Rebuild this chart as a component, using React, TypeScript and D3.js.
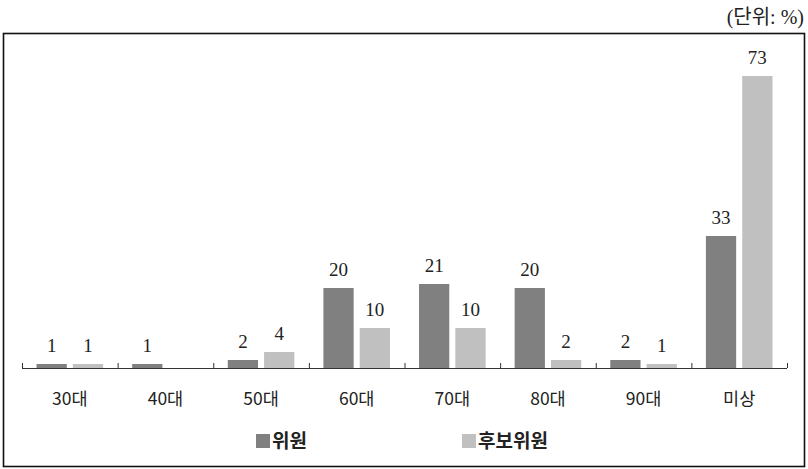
import React from "react";
import * as d3 from "d3";

const categories = ["30대", "40대", "50대", "60대", "70대", "80대", "90대", "미상"];
const seriesNames = ["위원", "후보위원"];
const members: (number | null)[] = [1, 1, 2, 20, 21, 20, 2, 33];
const alternates: (number | null)[] = [1, null, 4, 10, 10, 2, 1, 73];
const seriesColors = ["#808080", "#c0c0c0"];
const unitLabel = "(단위: %)";

const W = 808;
const H = 469;
const baseY = 368;

export default function App() {
  const x0 = d3.scaleBand<string>().domain(categories).range([22, 787]).paddingInner(0).paddingOuter(0);
  const x1 = d3
    .scaleBand<string>()
    .domain(seriesNames)
    .range([0, x0.bandwidth()])
    .paddingInner(1 / 6)
    .paddingOuter(0.4);
  const y = d3.scaleLinear().domain([0, 73]).range([baseY, baseY - 292]);
  const data = [members, alternates];
  const serif = "'Liberation Serif', 'DejaVu Serif', 'Noto Sans CJK KR', serif";
  const sans = "'Noto Sans CJK KR', 'DejaVu Sans', sans-serif";
  const ticks = categories.map((c) => x0(c)!).concat([x0.range()[1]]);

  return (
    <svg width={W} height={H} style={{ position: "absolute", left: 0, top: 0, background: "#fff" }}>
      <rect x={3.5} y={33.5} width={801} height={433} fill="#fff" stroke="#111" strokeWidth={1.6} />
      <text x={804} y={24} textAnchor="end" fontFamily={serif} fontSize={20} fill="#222">
        {unitLabel}
      </text>
      {data.map((vals, si) =>
        categories.map((c, i) => {
          const v = vals[i];
          if (v == null) return null;
          const bx = x0(c)! + x1(seriesNames[si])!;
          return (
            <g key={`${si}-${i}`}>
              <rect x={bx} y={y(v)} width={x1.bandwidth()} height={baseY - y(v)} fill={seriesColors[si]} />
              <text
                x={bx + x1.bandwidth() / 2}
                y={y(v) - 12}
                textAnchor="middle"
                fontFamily={serif}
                fontSize={19}
                fill="#222"
              >
                {v}
              </text>
            </g>
          );
        })
      )}
      <line x1={x0.range()[0]} x2={x0.range()[1]} y1={baseY + 0.5} y2={baseY + 0.5} stroke="#333" strokeWidth={1} />
      {ticks.map((t, i) => (
        <line key={i} x1={t + 0.5} x2={t + 0.5} y1={baseY - 5} y2={baseY} stroke="#333" strokeWidth={1} />
      ))}
      {categories.map((c) => (
        <text
          key={c}
          x={x0(c)! + x0.bandwidth() / 2}
          y={405}
          textAnchor="middle"
          fontFamily={sans}
          fontSize={17.5}
          fill="#222"
        >
          {c}
        </text>
      ))}
      {seriesNames.map((s, si) => {
        const lx = si === 0 ? 256 : 462;
        return (
          <g key={s}>
            <rect x={lx} y={434} width={14} height={14} fill={seriesColors[si]} />
            <text x={lx + 16} y={448} fontFamily={sans} fontSize={19} fontWeight={600} fill="#222">
              {s}
            </text>
          </g>
        );
      })}
    </svg>
  );
}
